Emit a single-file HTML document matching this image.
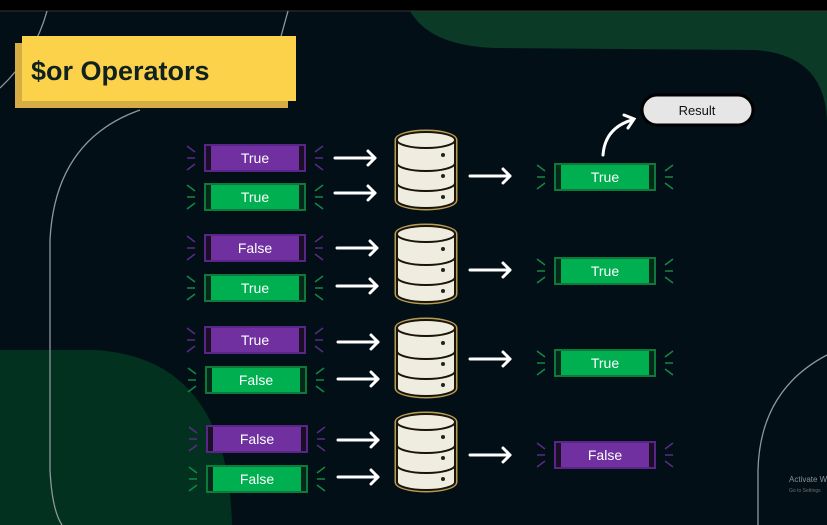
<!DOCTYPE html>
<html><head><meta charset="utf-8"><style>
html,body{margin:0;padding:0;background:#020f16;}
svg{display:block;}
text{font-family:"Liberation Sans",sans-serif;}
</style></head><body>
<svg width="827" height="525" viewBox="0 0 827 525" xmlns="http://www.w3.org/2000/svg">
<defs>
<g id="tp" stroke="#5b2a86" stroke-width="1.5">
<line x1="-18" y1="-12" x2="-10" y2="-6"/><line x1="-18" y1="0" x2="-10" y2="0"/><line x1="-18" y1="12" x2="-10" y2="6"/>
<line x1="118" y1="-12" x2="110" y2="-6"/><line x1="118" y1="0" x2="110" y2="0"/><line x1="118" y1="12" x2="110" y2="6"/>
</g>
<g id="tg" stroke="#0f8a45" stroke-width="1.5">
<line x1="-18" y1="-12" x2="-10" y2="-6"/><line x1="-18" y1="0" x2="-10" y2="0"/><line x1="-18" y1="12" x2="-10" y2="6"/>
<line x1="118" y1="-12" x2="110" y2="-6"/><line x1="118" y1="0" x2="110" y2="0"/><line x1="118" y1="12" x2="110" y2="6"/>
</g>
<g id="pp"><use href="#tp"/><rect x="0" y="-13" width="100" height="26" fill="#7030a0" stroke="#5a2588" stroke-width="2"/><rect x="1" y="-12" width="5" height="24" fill="#1a0f25"/><rect x="94" y="-12" width="5" height="24" fill="#1a0f25"/></g>
<g id="gp"><use href="#tg"/><rect x="0" y="-13" width="100" height="26" fill="#00b050" stroke="#0b7a3a" stroke-width="2"/><rect x="1" y="-12" width="5" height="24" fill="#06281a"/><rect x="94" y="-12" width="5" height="24" fill="#06281a"/></g>
<g id="ar" stroke="#fff" stroke-width="3" fill="none" stroke-linecap="round" stroke-linejoin="round"><line x1="0" y1="0" x2="40" y2="0"/><polyline points="33,-7 40,0 33,7"/></g>
<g id="db" fill="#efece0" stroke="#1a1508" stroke-width="2">
<path d="M-1,10 L-1,70 A30,9 0 0 0 59,70 L59,10" stroke="#b89c55" stroke-width="3"/>
<ellipse cx="29" cy="10" rx="30" ry="9" stroke="#b89c55" stroke-width="3"/>
<path d="M0,10 L0,70 A29,8 0 0 0 58,70 L58,10"/>
<ellipse cx="29" cy="10" rx="29" ry="8"/>
<path d="M0,33 A29,8 0 0 0 58,33" fill="none"/>
<path d="M0,53 A29,8 0 0 0 58,53" fill="none"/>
<circle cx="46" cy="25" r="2" fill="#222" stroke="none"/><circle cx="46" cy="46" r="2" fill="#222" stroke="none"/><circle cx="46" cy="67" r="2" fill="#222" stroke="none"/>
</g>
</defs>
<rect width="827" height="525" fill="#020f16"/>
<path d="M410,11 Q430,46 495,48 L755,50 Q827,55 827,125 L827,11 Z" fill="#0b3a27"/>
<path d="M0,350 L95,350 Q228,358 232,525 L0,525 Z" fill="#03311f"/>
<rect width="827" height="11" fill="#000"/>
<line x1="0" y1="11" x2="827" y2="11" stroke="#333" stroke-width="1"/>
<g stroke="#8f979c" stroke-width="1.3" fill="none">
<path d="M47,11 Q35,55 0,88"/>
<path d="M288,11 L280,40"/>
<path d="M140,110 Q55,140 50,240 L50,470 Q52,510 62,525"/>
<path d="M827,355 Q760,390 758,470 L758,525"/>
</g>
<rect x="15" y="43" width="273" height="65" fill="#d6ad45"/>
<rect x="22" y="36" width="274" height="65" fill="#fdd24b"/>
<text x="31" y="80" font-size="27" font-weight="bold" fill="#0f2220">$or Operators</text>
<rect x="642" y="95" width="111" height="30" rx="15" fill="#e6e6e6" stroke="#000" stroke-width="3"/>
<text x="697" y="115" font-size="13" fill="#111" text-anchor="middle">Result</text>
<g stroke="#fff" stroke-width="3" fill="none" stroke-linecap="round"><path d="M603,155 Q605,128 632,120"/><polyline points="624,115 634,119 628,128"/></g>

<g font-size="14" fill="#fff" text-anchor="middle">
<use href="#pp" x="205" y="158"/><text x="255" y="163">True</text>
<use href="#gp" x="205" y="197"/><text x="255" y="202">True</text>
<use href="#ar" x="335" y="158"/><use href="#ar" x="335" y="193"/>
<use href="#db" x="397" y="130"/>
<use href="#ar" x="470" y="176"/>
<use href="#gp" x="555" y="177"/><text x="605" y="182">True</text>

<use href="#pp" x="205" y="248"/><text x="255" y="253">False</text>
<use href="#gp" x="205" y="288"/><text x="255" y="293">True</text>
<use href="#ar" x="337" y="248"/><use href="#ar" x="337" y="286"/>
<use href="#db" x="397" y="224"/>
<use href="#ar" x="470" y="270"/>
<use href="#gp" x="555" y="271"/><text x="605" y="276">True</text>

<use href="#pp" x="205" y="340"/><text x="255" y="345">True</text>
<use href="#gp" x="206" y="380"/><text x="256" y="385">False</text>
<use href="#ar" x="338" y="342"/><use href="#ar" x="338" y="379"/>
<use href="#db" x="397" y="318"/>
<use href="#ar" x="470" y="359"/>
<use href="#gp" x="555" y="363"/><text x="605" y="368">True</text>

<use href="#pp" x="207" y="439"/><text x="257" y="444">False</text>
<use href="#gp" x="207" y="479"/><text x="257" y="484">False</text>
<use href="#ar" x="338" y="440"/><use href="#ar" x="338" y="477"/>
<use href="#db" x="397" y="412"/>
<use href="#ar" x="470" y="455"/>
<use href="#pp" x="555" y="455"/><text x="605" y="460">False</text>
</g>
<text x="789" y="482" font-size="8" fill="#8a8f93">Activate W</text>
<text x="789" y="492" font-size="5" fill="#6a6f73">Go to Settings</text>
</svg>
</body></html>
